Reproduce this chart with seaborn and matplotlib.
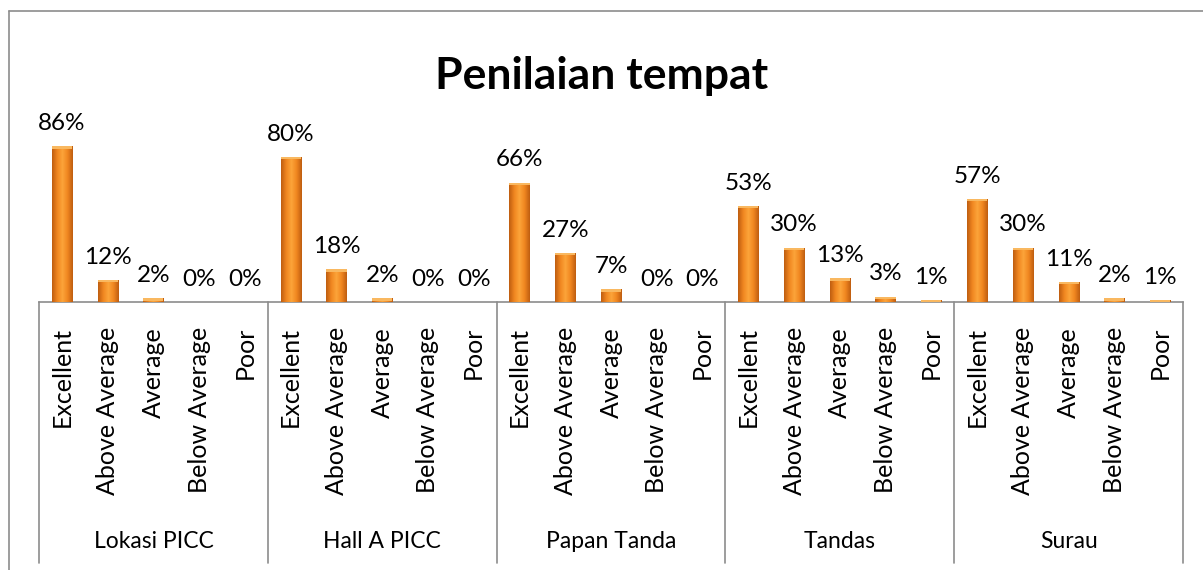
import numpy as np
import pandas as pd
import matplotlib
matplotlib.use("Agg")
import matplotlib.pyplot as plt
import seaborn as sns
from matplotlib.patches import Rectangle
from matplotlib.colors import LinearSegmentedColormap

# data
lokasi = ["Lokasi PICC", "Hall A PICC", "Papan Tanda", "Tandas", "Surau"]
kategori = ["Excellent", "Above Average", "Average", "Below Average", "Poor"]
nilai = [
    [86, 12, 2, 0, 0],
    [80, 18, 2, 0, 0],
    [66, 27, 7, 0, 0],
    [53, 30, 13, 3, 1],
    [57, 30, 11, 2, 1],
]

rows = []
for g, vals in zip(lokasi, nilai):
    for k, v in zip(kategori, vals):
        rows.append({"slot": g + "|" + k, "lokasi": g, "kategori": k, "nilai": v})
df = pd.DataFrame(rows)

sns.set_style("white")
plt.rcParams["font.family"] = ["Lato", "DejaVu Sans"]
plt.rcParams["text.color"] = "black"
plt.rcParams["xtick.color"] = "black"

fig = plt.figure(figsize=(12.03, 5.70), dpi=100)
# kiri 39px, kanan 1183px, garis dasar 302px, 100% di 121px
ax = fig.add_axes([39 / 1203, 1 - 302 / 570, (1183 - 39) / 1203, 181 / 570])

sns.barplot(data=df, x="slot", y="nilai", order=df["slot"], color="#E8821E",
            width=0.44, ax=ax, errorbar=None)
ax.set_ylim(0, 100)
ax.set_xlim(-0.5, len(df) - 0.5)

# efek gradien silinder seperti Excel
cmap = LinearSegmentedColormap.from_list(
    "oren", ["#BF5E10", "#F08620", "#FCA53A", "#F08620", "#BF5E10"])
grad = np.linspace(0, 1, 64).reshape(1, -1)
for p in ax.patches:
    x0, y0 = p.get_x(), p.get_y()
    w, h = p.get_width(), p.get_height()
    if h <= 0:
        h = 0.25
    im = ax.imshow(grad, cmap=cmap, aspect="auto", extent=[x0, x0 + w, y0, y0 + h],
                   zorder=3)
    clip = Rectangle((x0, y0), w, h, transform=ax.transData)
    im.set_clip_path(clip)
    p.set_visible(False)
    # sisi atas terang
    ax.add_patch(Rectangle((x0, y0 + h - min(1.2, h)), w, min(1.2, h),
                           color="#F9B860", zorder=4, lw=0))

ax.set_xlim(-0.5, len(df) - 0.5)
ax.set_ylim(0, 100)

for i, v in enumerate(df["nilai"]):
    ax.text(i, v + 9, f"{v}%", ha="center", va="baseline", fontsize=17.5)

ax.set_xticks(range(len(df)))
ax.set_xticklabels(df["kategori"], rotation=90, va="top", ha="center", fontsize=18)
ax.tick_params(axis="x", length=0, pad=18)
ax.set_yticks([])
ax.set_xlabel("")
ax.set_ylabel("")
for s in ["top", "right", "left"]:
    ax.spines[s].set_visible(False)
ax.spines["bottom"].set_color("#8C8C8C")
ax.spines["bottom"].set_linewidth(1.2)

# garis pemisah kumpulan dan nama kumpulan
bawah = -(563 - 302) / 181
trans = ax.get_xaxis_transform()
for j in range(len(lokasi) + 1):
    xpos = j * len(kategori) - 0.5
    ax.plot([xpos, xpos], [0, bawah], color="#8C8C8C", lw=1.2,
            transform=trans, clip_on=False)
for j, g in enumerate(lokasi):
    ax.text(j * len(kategori) + 2, -(541 - 302) / 181, g, transform=trans,
            ha="center", va="center", fontsize=16.5)

fig.suptitle("Penilaian tempat", x=0.5, y=1 - 76 / 570, va="center",
             fontsize=32, fontweight="bold")

# bingkai carta
fig.add_artist(plt.Line2D([9 / 1203, 9 / 1203], [0, 1 - 11 / 570],
                          transform=fig.transFigure, color="#8C8C8C", lw=1.2))
fig.add_artist(plt.Line2D([9 / 1203, 1], [1 - 11 / 570, 1 - 11 / 570],
                          transform=fig.transFigure, color="#8C8C8C", lw=1.2))

fig.savefig("out.png", dpi=100)
